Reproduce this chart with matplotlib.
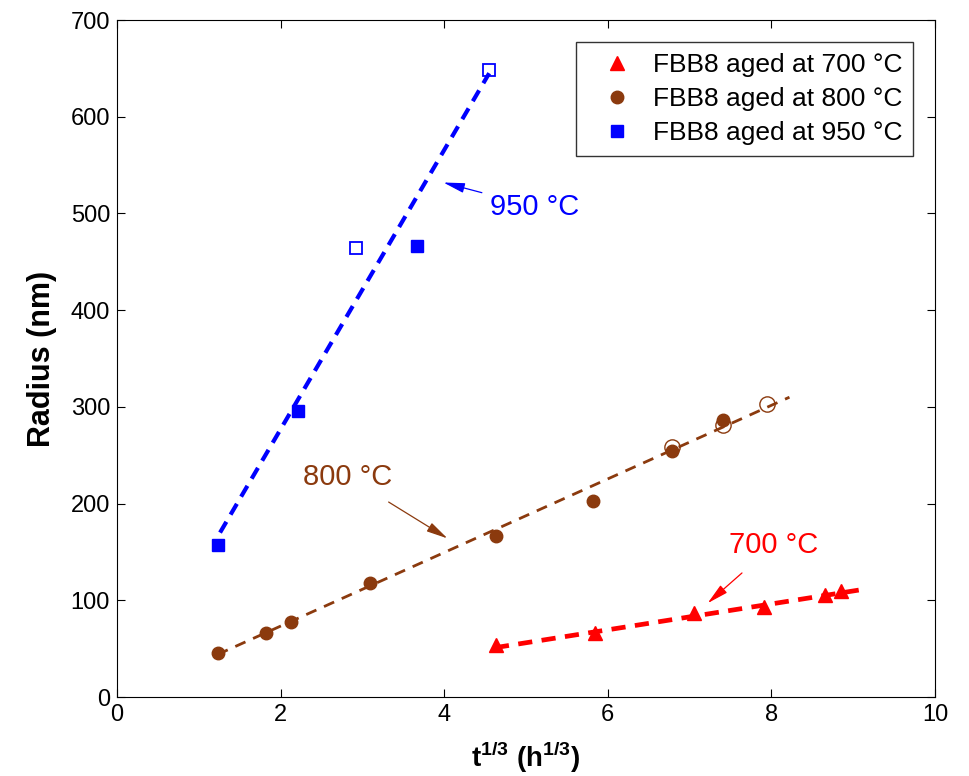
import matplotlib
matplotlib.use("Agg")
import matplotlib.pyplot as plt

plt.rcParams['font.family'] = ['Liberation Sans', 'DejaVu Sans']
plt.rcParams['mathtext.fontset'] = 'custom'
plt.rcParams['mathtext.rm'] = 'Liberation Sans'
plt.rcParams['mathtext.bf'] = 'Liberation Sans:bold'

red = '#FF0000'
brown = '#8B3A0E'
blue = '#0000FF'

# 700 C data (filled triangles)
x700 = [4.63, 5.84, 7.05, 7.91, 8.66, 8.85]
r700 = [54, 66, 87, 93, 105, 110]
fit700_x = [4.62, 9.1]
fit700_y = [51, 111]

# 800 C data
x800 = [1.23, 1.82, 2.13, 3.09, 4.63, 5.82, 6.79, 7.41]
r800 = [46, 66, 78, 118, 166, 203, 254, 286]
x800_open = [6.79, 7.41, 7.95]
r800_open = [259, 281, 303]
fit800_x = [1.23, 8.22]
fit800_y = [44, 310]

# 950 C data
x950 = [1.23, 2.21, 3.67]
r950 = [157, 296, 466]
x950_open = [2.92, 4.55]
r950_open = [464, 648]
fit950_x = [1.26, 4.55]
fit950_y = [170, 645]

fig = plt.figure(figsize=(9.69, 7.76), dpi=100)
ax = fig.add_axes([0.1207, 0.1018, 0.8443, 0.8724])

# fit lines
ax.plot(fit700_x, fit700_y, '--', color=red, lw=3.4, dashes=(3, 2))
ax.plot(fit800_x, fit800_y, '--', color=brown, lw=2.0, dashes=(4, 3))
ax.plot(fit950_x, fit950_y, '--', color=blue, lw=3.0, dashes=(3, 2))

# data
ax.plot(x700, r700, '^', color=red, ms=10, label='FBB8 aged at 700 \u00b0C')
ax.plot(x800, r800, 'o', color=brown, ms=9, label='FBB8 aged at 800 \u00b0C')
ax.plot(x950, r950, 's', color=blue, ms=9, label='FBB8 aged at 950 \u00b0C')
ax.plot(x800_open, r800_open, 'o', mfc='none', mec=brown, ms=11, mew=1)
ax.plot(x950_open, r950_open, 's', mfc='none', mec=blue, ms=9, mew=1.3)

# annotations
arrow = '-|>,head_length=1.3,head_width=0.3'
ax.annotate('950 \u00b0C', xy=(3.99, 532), xytext=(4.56, 507), color=blue,
            fontsize=21, va='center',
            arrowprops=dict(arrowstyle=arrow, color=blue, lw=0.9, shrinkA=4, shrinkB=0,
                            mutation_scale=10))
ax.annotate('800 \u00b0C', xy=(4.04, 164), xytext=(2.27, 228), color=brown,
            fontsize=21, va='center',
            arrowprops=dict(arrowstyle=arrow, color=brown, lw=0.9, shrinkA=12, shrinkB=0,
                            mutation_scale=10))
ax.annotate('700 \u00b0C', xy=(7.22, 97), xytext=(7.48, 157), color=red,
            fontsize=21, va='center',
            arrowprops=dict(arrowstyle=arrow, color=red, lw=0.9, shrinkA=12, shrinkB=0,
                            mutation_scale=10))

ax.set_xlim(0, 10)
ax.set_ylim(0, 700)
ax.set_xticks([0, 2, 4, 6, 8, 10])
ax.set_yticks(range(0, 701, 100))
ax.tick_params(direction='in', top=True, right=True, labelsize=17, length=6, pad=5)
ax.set_xlabel('t$^{\\mathregular{1/3}}$ (h$^{\\mathregular{1/3}}$)', fontsize=20,
              fontweight='bold', labelpad=10)
ax.set_ylabel('Radius (nm)', fontsize=22, fontweight='bold', labelpad=10)

leg = ax.legend(loc='upper right', fontsize=19, frameon=True, fancybox=False,
                edgecolor='black', borderaxespad=0.85, borderpad=0.4,
                handlelength=2.3, handletextpad=0.2,
                labelspacing=0.38, numpoints=1)
leg.get_frame().set_linewidth(1)

fig.savefig('out.png', dpi=100)
